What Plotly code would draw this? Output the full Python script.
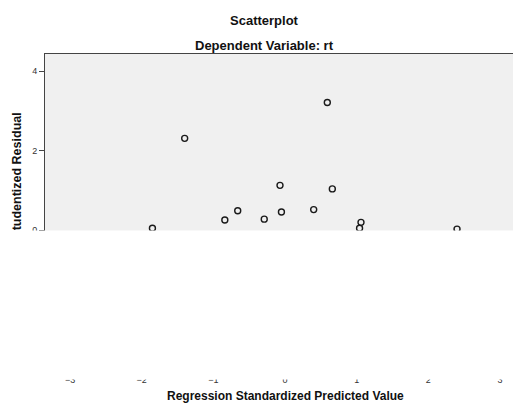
import plotly.graph_objects as go

# Data
pred_std = [-1.40, 0.59, -0.07, 0.66, -0.84, -0.66, -0.29, -0.05, 0.40, 1.06, 1.04, -1.85, 2.40]
stud_res = [2.31, 3.21, 1.13, 1.04, 0.26, 0.49, 0.28, 0.46, 0.52, 0.20, 0.05, 0.05, 0.03]

x_ticks = [-3, -2, -1, 0, 1, 2, 3]
y_ticks = [-2, 0, 2, 4]

W, H = 513, 403
L_PX, T_PX, B_PX = 45, 54, 33
PLOT_H = H - T_PX - B_PX

def py(pix):
    return (H - B_PX - pix) / PLOT_H

fig = go.Figure()
fig.add_trace(go.Scatter(
    x=pred_std, y=stud_res, mode="markers",
    marker=dict(symbol="circle-open", size=6, color="#1a1a1a",
                line=dict(width=1.4, color="#1a1a1a")),
    showlegend=False, hoverinfo="skip", cliponaxis=True,
))
# helper trace for the rotated axis-title axis
fig.add_trace(go.Scatter(x=[None], y=[None], yaxis="y2", showlegend=False,
                         hoverinfo="skip"))

font = "Liberation Sans, Arial, sans-serif"

fig.update_layout(
    width=W, height=H,
    margin=dict(l=0, r=0, t=T_PX, b=B_PX),
    paper_bgcolor="white",
    plot_bgcolor="#f0f0f0",
    font=dict(family=font, color="#222"),
    hovermode=False,
    xaxis=dict(
        domain=[L_PX / W, 1], range=[-3.349, 3.181],
        tickvals=x_ticks, ticks="outside", ticklen=1, tickcolor="#444",
        tickfont=dict(size=9, color="#333"),
        showgrid=False, zeroline=False,
        showline=True, linecolor="#444", linewidth=1, mirror=True,
    ),
    yaxis=dict(
        range=[-3.51, 4.43], tickvals=y_ticks,
        ticks="outside", ticklen=5, tickcolor="#444",
        tickfont=dict(size=9, color="#333"),
        showgrid=False, zeroline=False,
        showline=True, linecolor="#444", linewidth=1,
    ),
    yaxis2=dict(
        overlaying="y", anchor="free", position=23 / W, side="left",
        range=[-3.51, 4.43], tickvals=[1.33], ticktext=["Studentized Residual"],
        tickangle=-90, ticks="", showline=False, showgrid=False, zeroline=False,
        tickfont=dict(size=12.5, color="#111", weight="bold"),
    ),
    shapes=[dict(
        type="rect", xref="paper", yref="paper", layer="above",
        x0=-0.01, x1=1.01, y0=py(379.5), y1=py(230.5),
        fillcolor="white", line=dict(width=0),
    )],
    annotations=[
        dict(text="<b>Scatterplot</b>", xref="paper", yref="paper",
             x=264 / W, y=py(20), xanchor="center", yanchor="middle",
             showarrow=False, font=dict(size=13, color="#111")),
        dict(text="<b>Dependent Variable: rt</b>", xref="paper", yref="paper",
             x=264 / W, y=py(45), xanchor="center", yanchor="middle",
             showarrow=False, font=dict(size=13, color="#111")),
        dict(text="<b>Regression Standardized Predicted Value</b>", xref="paper",
             yref="paper", x=285 / W, y=py(396), xanchor="center",
             yanchor="middle", showarrow=False, font=dict(size=12, color="#111")),
    ],
)

fig.write_html("out.html",
               config={"displayModeBar": False, "staticPlot": True},
               post_script="document.body.style.margin='0px';"
                           "document.body.style.overflow='hidden';")
